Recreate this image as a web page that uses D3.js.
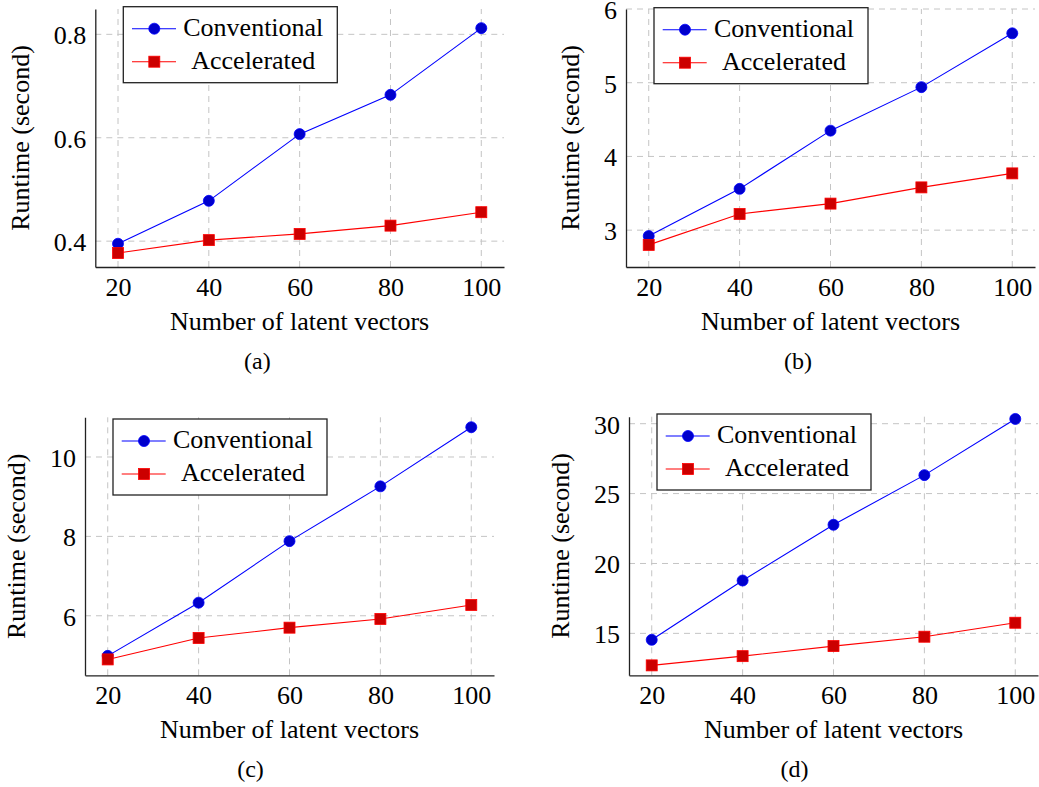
<!DOCTYPE html>
<html>
<head>
<meta charset="utf-8">
<script src="https://cdn.jsdelivr.net/npm/d3@7"></script>
<style>
  body { margin: 0; background: #fff; }
  text { font-family: "Liberation Serif", "Times New Roman", serif; fill: #000; }
</style>
</head>
<body>
<script>
const width = 1039;
const height = 787;

// data
const latentVectors = [20, 40, 60, 80, 100];
const seriesNames = ["Conventional", "Accelerated"];

const conventionalA = [0.395, 0.478, 0.607, 0.683, 0.812];
const acceleratedA = [0.377, 0.402, 0.414, 0.430, 0.456];
const conventionalB = [2.92, 3.56, 4.35, 4.94, 5.67];
const acceleratedB = [2.80, 3.22, 3.36, 3.58, 3.77];
const conventionalC = [4.99, 6.33, 7.88, 9.26, 10.75];
const acceleratedC = [4.90, 5.44, 5.70, 5.92, 6.27];
const conventionalD = [14.54, 18.78, 22.77, 26.32, 30.34];
const acceleratedD = [12.71, 13.37, 14.09, 14.76, 15.76];

const yTicksA = [0.4, 0.6, 0.8];
const yTicksB = [3, 4, 5, 6];
const yTicksC = [6, 8, 10];
const yTicksD = [15, 20, 25, 30];

const captions = ["(a)", "(b)", "(c)", "(d)"];

// panel layout
const panels = [
  { conv: conventionalA, acc: acceleratedA, ticks: yTicksA, fmt: d3.format(".1f"), ydom: [0.35, 0.849],
    left: 95.3, top: 9, right: 504, bottom: 267, legTop: 6.7 },
  { conv: conventionalB, acc: acceleratedB, ticks: yTicksB, fmt: d3.format("d"), ydom: [2.5, 6.0],
    left: 626, top: 9, right: 1035, bottom: 267, legTop: 7.7 },
  { conv: conventionalC, acc: acceleratedC, ticks: yTicksC, fmt: d3.format("d"), ydom: [4.5, 11],
    left: 85, top: 417.3, right: 494, bottom: 675.3, legTop: 419 },
  { conv: conventionalD, acc: acceleratedD, ticks: yTicksD, fmt: d3.format("d"), ydom: [12, 30.5],
    left: 629, top: 416.7, right: 1038, bottom: 675.3, legTop: 414 }
];

const blue = "#0000ff", blueFill = "#0000cc";
const red = "#ff0000", redFill = "#cc0000";
const fontSize = 26;

var svg = d3.select("body").append("svg")
  .attr("width", width)
  .attr("height", height);

function drawMarker(g, kind, cx, cy) {
  if (kind === 0) {
    g.append("circle").attr("cx", cx).attr("cy", cy).attr("r", 5.5)
      .attr("fill", blueFill).attr("stroke", blue).attr("stroke-width", 0.8);
  } else {
    g.append("rect").attr("x", cx - 5.5).attr("y", cy - 5.5)
      .attr("width", 11).attr("height", 11)
      .attr("fill", redFill).attr("stroke", red).attr("stroke-width", 0.8);
  }
}

panels.forEach(function(p, idx) {
  var g = svg.append("g");

  var x = d3.scaleLinear().domain([15, 105]).range([p.left, p.right]);
  var y = d3.scaleLinear().domain(p.ydom).range([p.bottom, p.top]);

  // grid
  var grid = g.append("g")
    .attr("stroke", "#c4c4c4")
    .attr("stroke-width", 1)
    .attr("stroke-dasharray", "6,5");
  latentVectors.forEach(function(v) {
    grid.append("line").attr("x1", x(v)).attr("x2", x(v))
      .attr("y1", p.bottom).attr("y2", p.top);
  });
  p.ticks.forEach(function(v) {
    grid.append("line").attr("x1", p.left).attr("x2", p.right)
      .attr("y1", y(v)).attr("y2", y(v));
  });

  // axes
  var xAxis = g.append("g")
    .attr("transform", "translate(0," + p.bottom + ")")
    .call(d3.axisBottom(x).tickValues(latentVectors).tickSize(0).tickSizeOuter(0).tickPadding(10));
  var yAxis = g.append("g")
    .attr("transform", "translate(" + p.left + ",0)")
    .call(d3.axisLeft(y).tickValues(p.ticks).tickFormat(p.fmt).tickSize(0).tickSizeOuter(0).tickPadding(9));

  [xAxis, yAxis].forEach(function(a) {
    a.select(".domain").attr("stroke", "#222").attr("stroke-width", 1.3);
    a.selectAll("text")
      .style("font-family", '"Liberation Serif", "Times New Roman", serif')
      .style("font-size", fontSize + "px")
      .attr("fill", "#000");
  });
  xAxis.selectAll("text").attr("dy", "0.72em");
  yAxis.selectAll("text").attr("dy", "0.36em");

  // series
  var line = d3.line()
    .x(function(d, i) { return x(latentVectors[i]); })
    .y(function(d) { return y(d); });

  [p.conv, p.acc].forEach(function(vals, k) {
    g.append("path").datum(vals)
      .attr("fill", "none")
      .attr("stroke", k === 0 ? blue : red)
      .attr("stroke-width", 1.1)
      .attr("d", line);
  });
  [p.conv, p.acc].forEach(function(vals, k) {
    vals.forEach(function(v, i) {
      drawMarker(g, k, x(latentVectors[i]), y(v));
    });
  });

  // axis labels
  var maxW = 0;
  yAxis.selectAll("text").each(function() {
    maxW = Math.max(maxW, this.getComputedTextLength());
  });
  var yLabelX = p.left - 9 - maxW - 25;
  g.append("text")
    .attr("transform", "translate(" + yLabelX + "," + ((p.top + p.bottom) / 2) + ") rotate(-90)")
    .attr("text-anchor", "middle")
    .style("font-size", fontSize + "px")
    .text("Runtime (second)");

  g.append("text")
    .attr("x", (p.left + p.right) / 2)
    .attr("y", p.bottom + 63)
    .attr("text-anchor", "middle")
    .style("font-size", fontSize + "px")
    .text("Number of latent vectors");

  // caption, centred on the whole picture incl. y label
  var figLeft = yLabelX - 18;
  g.append("text")
    .attr("x", (figLeft + p.right) / 2)
    .attr("y", p.bottom + 102)
    .attr("text-anchor", "middle")
    .style("font-size", "24px")
    .text(captions[idx]);

  // legend
  var lx = p.left + 28, ly = p.legTop;
  var leg = g.append("g");
  leg.append("rect")
    .attr("x", lx).attr("y", ly)
    .attr("width", 214).attr("height", 76)
    .attr("fill", "#fff")
    .attr("stroke", "#222")
    .attr("stroke-width", 1.3);
  seriesNames.forEach(function(name, k) {
    var ry = ly + 22 + k * 33;
    leg.append("line")
      .attr("x1", lx + 8.7).attr("x2", lx + 52.7)
      .attr("y1", ry).attr("y2", ry)
      .attr("stroke", k === 0 ? blue : red)
      .attr("stroke-width", 1.1);
    drawMarker(leg, k, lx + 31, ry);
    leg.append("text")
      .attr("x", lx + 130)
      .attr("y", ry + 7)
      .attr("text-anchor", "middle")
      .style("font-size", fontSize + "px")
      .text(name);
  });
});
</script>
</body>
</html>
